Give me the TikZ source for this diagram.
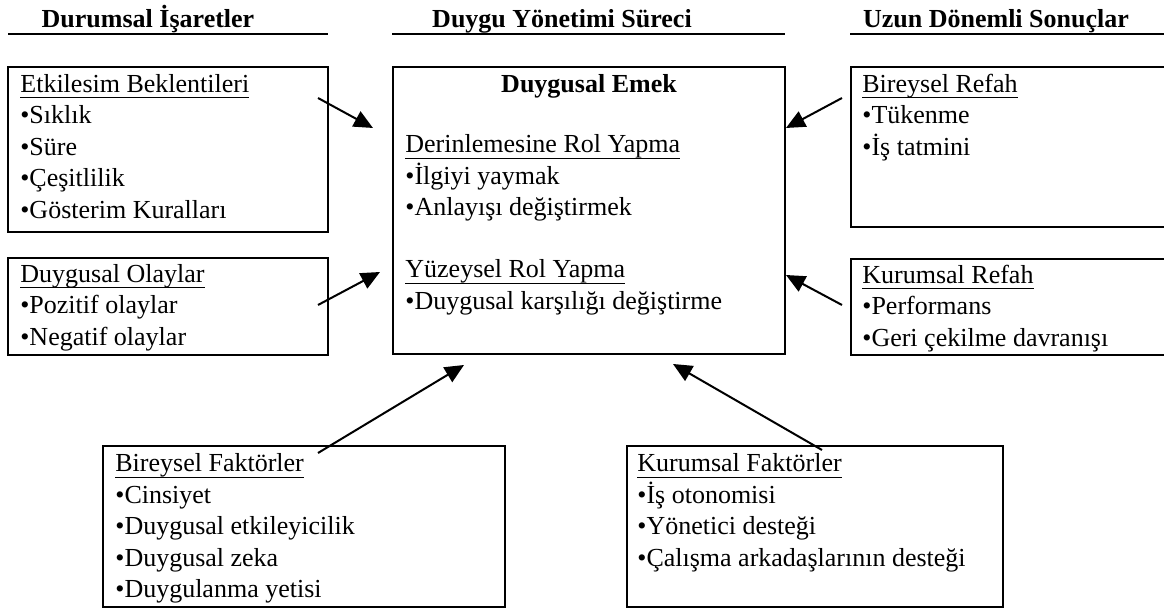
\documentclass[tikz,border=0pt]{standalone}
\usepackage{fontspec}
\setmainfont{Liberation Serif}
\usepackage{tikz}
\usetikzlibrary{arrows.meta, fit, positioning}
\tikzstyle{kutu} = [
    draw,
    line width=0.75pt,
    inner sep=0pt,
]
\tikzstyle{yazi} = [
    inner sep=0pt,
    anchor=base west,
    font=\fontsize{13}{15.75}\selectfont,
]
\tikzstyle{baslik} = [
    inner sep=0pt,
    anchor=base,
    font=\fontsize{13}{15.75}\selectfont\bfseries,
]
\tikzstyle{cizgi} = [line width=0.75pt]
\tikzstyle{ok} = [-{Triangle[length=9.5pt,width=8.5pt]}, line width=1pt]
\newcommand{\cizgili}[1]{\underline{\smash{#1}\rule[-1.3pt]{0pt}{0pt}}}

\begin{document}
\begin{tikzpicture}[x=0.5pt, y=-0.5pt]
    \useasboundingbox (0,0) rectangle (1164,608);

    % headers
    \node[baslik] (h1) at (148,28) {Durumsal İşaretler};
    \node[baslik] (h2) at (562,28) {Duygu Yönetimi Süreci};
    \node[baslik] (h3) at (996,28) {Uzun Dönemli Sonuçlar};
    \draw[cizgi] (8,34) -- (328,34);
    \draw[cizgi] (392,34) -- (785,34);
    \draw[cizgi] (850,34) -- (1166,34);

    % boxes
    \node[kutu, fit={(8,67) (328,232)}] (b1) {};
    \node[kutu, fit={(8,258) (328,355)}] (b2) {};
    \node[kutu, fit={(393,67) (785,354)}] (em) {};
    \node[kutu, fit={(851,67) (1166,227)}] (b3) {};
    \node[kutu, fit={(851,259) (1166,355)}] (b4) {};
    \node[kutu, fit={(103,446) (505,607)}] (b5) {};
    \node[kutu, fit={(627,446) (1003,607)}] (b6) {};

    % left texts
    \node[yazi] (b1t) at (20,92.5) {\cizgili{Etkilesim Beklentileri}};
    \foreach \m [count=\i] in {Sıklık, Süre, Çeşitlilik, Gösterim Kuralları} {
        \node[yazi] (b1m\i) at (20,92.5+31.5*\i) {•\m};
    }
    \node[yazi] (b2t) at (20,282.5) {\cizgili{Duygusal Olaylar}};
    \foreach \m [count=\i] in {Pozitif olaylar, Negatif olaylar} {
        \node[yazi] (b2m\i) at (20,282.5+31.5*\i) {•\m};
    }

    % centre texts
    \node[baslik] (em0) at (589,92.5) {Duygusal Emek};
    \node[yazi] (em1) at (405,153) {\cizgili{Derinlemesine Rol Yapma}};
    \node[yazi] (em2) at (405,184.5) {•İlgiyi yaymak};
    \node[yazi] (em3) at (405,216) {•Anlayışı değiştirmek};
    \node[yazi] (em4) at (405,278) {\cizgili{Yüzeysel Rol Yapma}};
    \node[yazi] (em5) at (405,309.5) {•Duygusal karşılığı değiştirme};

    % right texts
    \node[yazi] (b3t) at (862,92.5) {\cizgili{Bireysel Refah}};
    \foreach \m [count=\i] in {Tükenme, İş tatmini} {
        \node[yazi] (b3m\i) at (862,92.5+31.5*\i) {•\m};
    }
    \node[yazi] (b4t) at (862,283.5) {\cizgili{Kurumsal Refah}};
    \foreach \m [count=\i] in {Performans, Geri çekilme davranışı} {
        \node[yazi] (b4m\i) at (862,283.5+31.5*\i) {•\m};
    }

    % bottom texts
    \node[yazi] (b5t) at (115,472) {\cizgili{Bireysel Faktörler}};
    \foreach \m [count=\i] in {Cinsiyet, Duygusal etkileyicilik, Duygusal zeka, Duygulanma yetisi} {
        \node[yazi] (b5m\i) at (115,472+31.5*\i) {•\m};
    }
    \node[yazi] (b6t) at (637,472) {\cizgili{Kurumsal Faktörler}};
    \foreach \m [count=\i] in {İş otonomisi, Yönetici desteği, Çalışma arkadaşlarının desteği} {
        \node[yazi] (b6m\i) at (637,472+31.5*\i) {•\m};
    }

    % arrows
    \coordinate (o1a) at (318,98);  \coordinate (o1b) at (373,128);
    \coordinate (o2a) at (842,98);  \coordinate (o2b) at (786,128);
    \coordinate (o3a) at (318,305); \coordinate (o3b) at (380,272);
    \coordinate (o4a) at (842,305); \coordinate (o4b) at (786,275);
    \coordinate (o5a) at (318,453); \coordinate (o5b) at (464,365);
    \coordinate (o6a) at (822,450); \coordinate (o6b) at (673,364);
    \foreach \x in {1,...,6} {
        \draw[ok] (o\x a) -- (o\x b);
    }
\end{tikzpicture}
\end{document}
